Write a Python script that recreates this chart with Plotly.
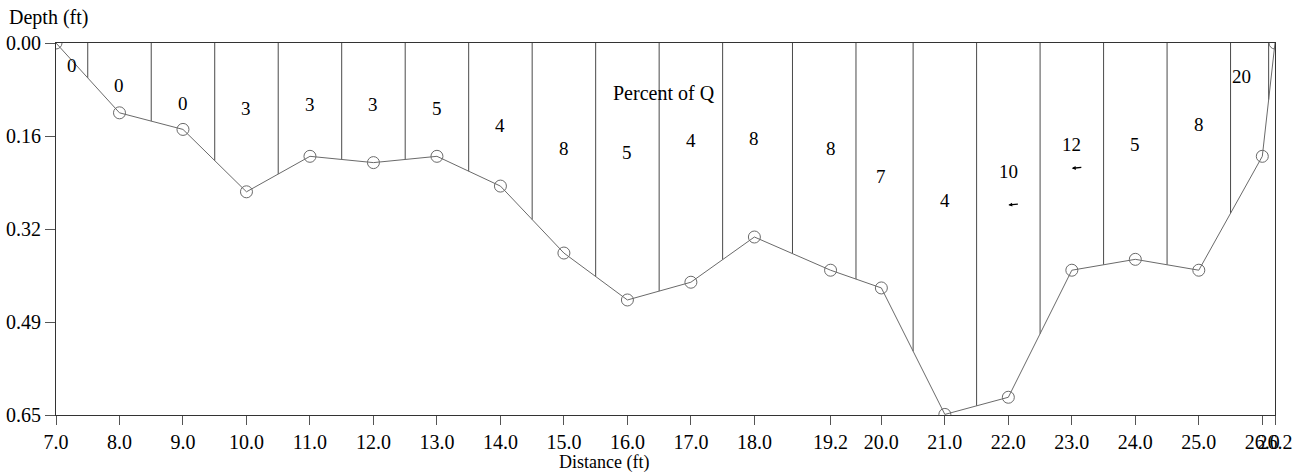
import plotly.graph_objects as go

# ---- data ----
stations = [7.0, 8.0, 9.0, 10.0, 11.0, 12.0, 13.0, 14.0, 15.0, 16.0, 17.0,
            18.0, 19.2, 20.0, 21.0, 22.0, 23.0, 24.0, 25.0, 26.0, 26.2]
depths = [0.00, 0.122, 0.151, 0.260, 0.198, 0.209, 0.198, 0.250, 0.367, 0.449,
          0.418, 0.339, 0.397, 0.428, 0.649, 0.619, 0.397, 0.378, 0.397, 0.198, 0.00]
percent_q = [0, 0, 0, 3, 3, 3, 5, 4, 8, 5, 4, 8, 8, 7, 4, 10, 12, 5, 8, 20]
label_x = [7.25, 8.0, 9.0, 10.0, 11.0, 12.0, 13.0, 14.0, 15.0, 16.0, 17.0,
           18.0, 19.2, 20.0, 21.0, 22.0, 23.0, 24.0, 25.0, 25.68]
label_depth = [0.040, 0.075, 0.105, 0.115, 0.108, 0.108, 0.114, 0.145, 0.184,
               0.192, 0.171, 0.166, 0.184, 0.233, 0.276, 0.224, 0.177, 0.177,
               0.143, 0.059]
arrow_x = [22.0, 23.0]
arrow_depth = [0.283, 0.219]
y_tickvals = [0.0, 0.1625, 0.325, 0.4875, 0.65]
y_ticktext = ["0.00", "0.16", "0.32", "0.49", "0.65"]
x_ticktext = ["%.1f" % s for s in stations]

FONT = "Liberation Serif"
W, H = 1304, 474
ML, MR, MT, MB = 56, 29, 43, 59
PW, PH = W - ML - MR, H - MT - MB

# subsection boundary lines (midpoints between stations, down to the bed)
vx, vy = [], []
for i in range(len(stations) - 1):
    m = (stations[i] + stations[i + 1]) / 2
    d = (depths[i] + depths[i + 1]) / 2
    vx += [m, m, None]
    vy += [0, d, None]

fig = go.Figure()
fig.add_trace(go.Scatter(x=vx, y=vy, mode="lines",
                         line=dict(color="#4a4a4a", width=1),
                         hoverinfo="skip", showlegend=False))
fig.add_trace(go.Scatter(x=stations, y=depths, mode="lines+markers",
                         line=dict(color="#6a6a6a", width=1),
                         marker=dict(symbol="circle-open", size=12,
                                     color="#6a6a6a", line=dict(width=1)),
                         showlegend=False))

tf = dict(family=FONT, size=20, color="black")
annotations = []
for x, y, p in zip(label_x, label_depth, percent_q):
    annotations.append(dict(x=x, y=y, xref="x", yref="y", text=str(p),
                            showarrow=False, font=dict(family=FONT, size=19, color="black")))
annotations.append(dict(x=16.58, y=0.087, xref="x", yref="y",
                        text="Percent of Q", showarrow=False, font=tf))
for x, y in zip(arrow_x, arrow_depth):
    annotations.append(dict(x=x, y=y, xref="x", yref="y", text="",
                            showarrow=True, ax=11, ay=-1, arrowhead=2,
                            arrowsize=0.6, arrowwidth=1.3, arrowcolor="black"))
annotations.append(dict(x=(7 - ML) / PW, y=(H - MB - 17.5) / PH,
                        xref="paper", yref="paper", xanchor="left",
                        yanchor="middle", text="Depth (ft)", showarrow=False,
                        font=tf))
annotations.append(dict(x=(604 - ML) / PW, y=(H - MB - 463) / PH,
                        xref="paper", yref="paper", xanchor="center",
                        yanchor="middle", text="Distance (ft)",
                        showarrow=False, font=dict(family=FONT, size=18, color="black")))

fig.update_layout(
    width=W, height=H,
    margin=dict(l=ML, r=MR, t=MT, b=MB),
    paper_bgcolor="white", plot_bgcolor="white",
    font=tf,
    annotations=annotations,
    xaxis=dict(range=[7.0, 26.2], tickvals=stations, ticktext=x_ticktext,
               tickangle=0, automargin=False,
               ticks="outside", ticklen=9, tickcolor="#555", tickwidth=1,
               showgrid=False, zeroline=False, showline=True,
               linecolor="#333", linewidth=1, mirror=True, tickfont=tf),
    yaxis=dict(range=[0.65, 0.0], tickvals=y_tickvals, ticktext=y_ticktext,
               automargin=False,
               ticks="outside", ticklen=10, tickcolor="#555", tickwidth=1,
               showgrid=False, zeroline=False, showline=True,
               linecolor="#333", linewidth=1, mirror=True, tickfont=tf),
)

fig.write_html("out.html")
